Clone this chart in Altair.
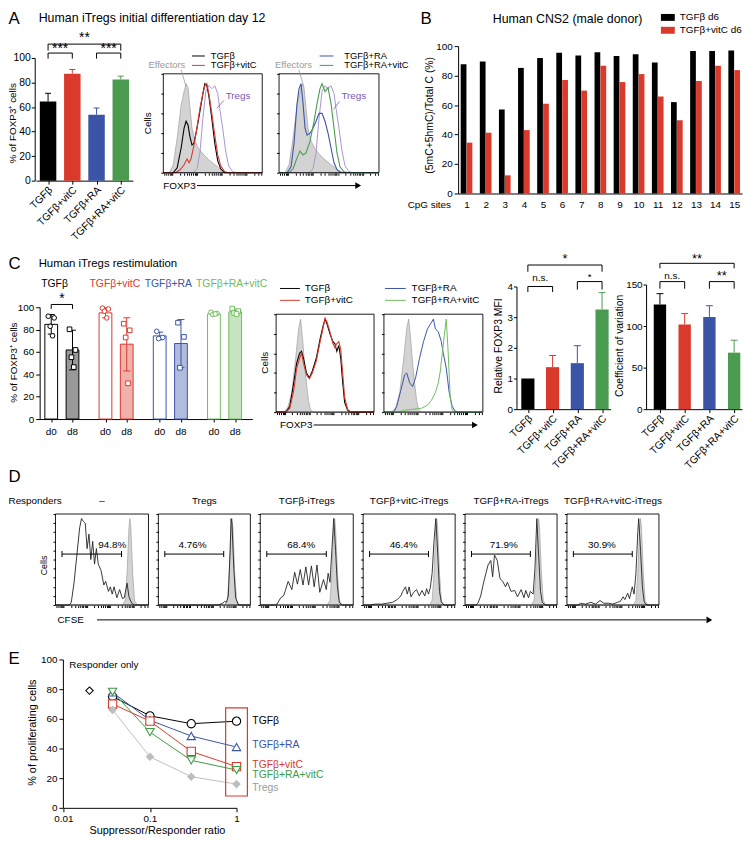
import json
import math

import altair as alt
import pandas as pd

W, H = 746, 833
FONT = "Liberation Sans"

BLACK = "#000000"
RED = "#d93a2c"
BLUE = "#3b54a6"
GREEN = "#4a9a4f"
LGREEN = "#70bb5f"
EGREEN = "#3e9b45"
GREY_TXT = "#9a9a9a"
GREY_FILL = "#d3d3d3"
GREY_LINE = "#a0a0a0"
TREG_LINE = "#a894d2"
TREG_TXT = "#7d58b0"
EGREY = "#bdbdbd"

# ====================== DATA ======================
GROUPS = ["TGFβ", "TGFβ+vitC", "TGFβ+RA", "TGFβ+RA+vitC"]
GROUP_COLORS = [BLACK, RED, BLUE, GREEN]

# Panel A: % FOXP3+ (mean, top of error bar)
A_mean = [64.6, 87.2, 53.8, 82.4]
A_top = [71.2, 90.6, 59.2, 85.2]
A_brk_a = [1, 3, 1]
A_brk_b = [2, 4, 4]
A_brk_top = [104.0, 104.0, 111.3]
A_brk_drop = [99.5, 99.5, 106.0]
A_brk_ty = [107.0, 107.0, 116.0]
A_brk_lab = ["***", "***", "**"]

# Panel B: methylation per CpG site
B_sites = list(range(1, 16))
B_tgfb = [87.7, 89.5, 57.0, 85.2, 91.9, 95.5, 93.7, 95.9, 93.3, 94.4, 88.8, 62.0, 96.6, 96.6, 97.0]
B_vitc = [34.5, 41.2, 12.3, 43.0, 60.9, 77.0, 69.8, 86.6, 75.6, 81.0, 65.8, 49.7, 76.3, 86.6, 83.7]

# Panel C: restimulation d0 / d8
C_d0_mean = [84.7, 95.0, 74.4, 94.1]
C_d0_lo = [76.0, 90.5, 71.0, 92.8]
C_d0_hi = [93.5, 99.5, 77.8, 95.4]
C_d0_pts = [[92.0, 90.5, 83.0, 74.5], [99.2, 98.5, 96.5, 90.5], [78.5, 73.0, 72.0], [95.5, 94.5, 93.5, 94.0]]
C_d8_mean = [61.8, 67.0, 67.6, 95.9]
C_d8_lo = [44.0, 43.0, 46.0, 93.8]
C_d8_hi = [79.5, 90.6, 89.0, 98.2]
C_d8_pts = [[80.3, 61.8, 55.3, 46.5], [85.3, 79.4, 73.0, 32.0], [86.2, 73.5, 45.9], [98.8, 96.5, 95.0, 94.0]]

MFI_mean = [1.0, 1.37, 1.5, 3.25]
MFI_top = [1.0, 1.75, 2.07, 3.8]
CV_mean = [126.0, 102.0, 111.0, 68.0]
CV_top = [139.0, 115.0, 124.5, 83.0]

# Panel E: suppression
E_ratio = [0.037, 0.1, 0.3, 1.0]
E_series = ["TGFβ", "TGFβ+RA", "TGFβ+vitC", "TGFβ+RA+vitC", "Tregs"]
E_tgfb = [75.0, 62.0, 56.7, 58.4]
E_ra = [77.8, 59.0, 48.4, 41.0]
E_vitc = [70.0, 58.4, 38.0, 27.8]
E_ravitc = [78.2, 51.0, 32.0, 25.5]
E_tregs = [66.0, 34.4, 21.0, 16.0]
E_resp_ratio = [0.02]
E_resp_val = [79.0]

# Histogram traces (fraction of FOXP3 / CFSE axis, fraction of modal count)
HA_eff = [[0, 0], [0.06, 0], [0.1, 0.08], [0.14, 0.35], [0.18, 0.68], [0.21, 0.82], [0.23, 0.9], [0.25, 0.86],
          [0.27, 0.65], [0.29, 0.45], [0.32, 0.32], [0.36, 0.24], [0.41, 0.18], [0.46, 0.13], [0.51, 0.09],
          [0.56, 0.05], [0.6, 0.02], [0.65, 0], [1, 0]]
HA1_tgfb = [[0, 0], [0.1, 0], [0.14, 0.05], [0.18, 0.25], [0.21, 0.45], [0.23, 0.52], [0.25, 0.48], [0.27, 0.36],
            [0.29, 0.28], [0.31, 0.3], [0.34, 0.45], [0.37, 0.62], [0.4, 0.8], [0.42, 0.9], [0.44, 0.88],
            [0.46, 0.78], [0.49, 0.55], [0.52, 0.3], [0.55, 0.12], [0.58, 0.04], [0.62, 0], [1, 0]]
HA1_vitc = [[0, 0], [0.12, 0], [0.17, 0.03], [0.21, 0.08], [0.24, 0.14], [0.26, 0.1], [0.28, 0.14], [0.31, 0.28],
            [0.34, 0.45], [0.37, 0.65], [0.4, 0.8], [0.42, 0.88], [0.44, 0.9], [0.46, 0.8], [0.49, 0.6],
            [0.52, 0.38], [0.55, 0.18], [0.58, 0.07], [0.62, 0.01], [0.66, 0], [1, 0]]
HA_tregs = [[0, 0], [0.3, 0], [0.34, 0.04], [0.37, 0.2], [0.4, 0.55], [0.43, 0.82], [0.46, 0.88], [0.49, 0.85],
            [0.52, 0.88], [0.55, 0.8], [0.57, 0.65], [0.6, 0.45], [0.63, 0.22], [0.66, 0.07], [0.7, 0.01],
            [0.74, 0], [1, 0]]
HA2_ra = [[0, 0], [0.08, 0], [0.12, 0.06], [0.15, 0.3], [0.18, 0.7], [0.2, 0.85], [0.22, 0.9], [0.24, 0.7],
          [0.26, 0.45], [0.28, 0.38], [0.31, 0.4], [0.34, 0.45], [0.37, 0.52], [0.4, 0.6], [0.43, 0.6],
          [0.46, 0.52], [0.49, 0.4], [0.52, 0.25], [0.55, 0.1], [0.58, 0.03], [0.62, 0], [1, 0]]
HA2_ravitc = [[0, 0], [0.1, 0], [0.14, 0.04], [0.18, 0.15], [0.21, 0.22], [0.24, 0.18], [0.27, 0.2], [0.31, 0.32],
              [0.35, 0.52], [0.38, 0.7], [0.41, 0.85], [0.43, 0.9], [0.46, 0.82], [0.49, 0.86], [0.52, 0.7],
              [0.55, 0.45], [0.58, 0.2], [0.61, 0.06], [0.65, 0.01], [0.7, 0], [1, 0]]

HC_eff = [[0, 0], [0.08, 0], [0.12, 0.05], [0.16, 0.2], [0.2, 0.55], [0.23, 0.85], [0.25, 0.95], [0.27, 0.75],
          [0.29, 0.5], [0.31, 0.3], [0.33, 0.12], [0.35, 0.03], [0.38, 0], [1, 0]]
HC1_tgfb = [[0, 0], [0.1, 0], [0.14, 0.06], [0.18, 0.3], [0.21, 0.5], [0.24, 0.6], [0.26, 0.62], [0.28, 0.55],
            [0.31, 0.4], [0.34, 0.35], [0.37, 0.42], [0.41, 0.55], [0.45, 0.75], [0.48, 0.88], [0.5, 0.95],
            [0.52, 0.9], [0.55, 0.8], [0.58, 0.72], [0.6, 0.7], [0.62, 0.62], [0.64, 0.68], [0.66, 0.55],
            [0.68, 0.3], [0.7, 0.1], [0.73, 0.02], [0.76, 0], [1, 0]]
HC1_vitc = [[0, 0], [0.1, 0], [0.14, 0.04], [0.18, 0.22], [0.21, 0.45], [0.24, 0.55], [0.26, 0.6], [0.28, 0.5],
            [0.31, 0.38], [0.34, 0.34], [0.37, 0.4], [0.41, 0.52], [0.45, 0.72], [0.48, 0.86], [0.5, 0.96],
            [0.52, 0.92], [0.55, 0.82], [0.58, 0.7], [0.6, 0.66], [0.62, 0.7], [0.64, 0.72], [0.66, 0.64],
            [0.68, 0.4], [0.7, 0.15], [0.73, 0.03], [0.76, 0], [1, 0]]
HC2_ra = [[0, 0], [0.1, 0], [0.13, 0.06], [0.17, 0.22], [0.21, 0.38], [0.23, 0.4], [0.26, 0.3], [0.29, 0.26],
          [0.32, 0.35], [0.36, 0.55], [0.4, 0.72], [0.44, 0.85], [0.47, 0.9], [0.5, 0.95], [0.52, 0.85],
          [0.55, 0.82], [0.58, 0.72], [0.6, 0.6], [0.63, 0.45], [0.66, 0.2], [0.69, 0.06], [0.72, 0.01],
          [0.75, 0], [1, 0]]
HC2_ravitc = [[0, 0], [0.15, 0], [0.22, 0.02], [0.3, 0.03], [0.38, 0.04], [0.44, 0.07], [0.48, 0.12], [0.52, 0.2],
              [0.55, 0.3], [0.57, 0.42], [0.59, 0.6], [0.61, 0.78], [0.63, 0.95], [0.65, 0.6], [0.67, 0.15],
              [0.69, 0.02], [0.72, 0], [1, 0]]

HD_undiv = [[0, 0], [0.72, 0], [0.75, 0.05], [0.77, 0.35], [0.79, 0.85], [0.8, 0.95], [0.81, 0.85], [0.83, 0.35],
            [0.85, 0.05], [0.88, 0], [1, 0]]
HD1 = [[0, 0], [0.15, 0], [0.17, 0.03], [0.2, 0.25], [0.23, 0.55], [0.26, 0.85], [0.28, 0.95], [0.3, 0.92],
       [0.32, 0.9], [0.34, 0.62], [0.36, 0.78], [0.38, 0.5], [0.4, 0.7], [0.42, 0.45], [0.44, 0.62], [0.46, 0.45],
       [0.49, 0.38], [0.52, 0.22], [0.54, 0.26], [0.57, 0.15], [0.59, 0.2], [0.61, 0.12], [0.63, 0.2],
       [0.66, 0.08], [0.69, 0.17], [0.72, 0.07], [0.74, 0.08], [0.77, 0.24], [0.79, 0.09], [0.82, 0.02],
       [0.85, 0], [1, 0]]
HD2 = [[0, 0], [0.65, 0], [0.7, 0.02], [0.72, 0.04], [0.74, 0.03], [0.76, 0.1], [0.78, 0.6], [0.79, 0.95],
       [0.8, 0.9], [0.82, 0.4], [0.84, 0.08], [0.87, 0], [1, 0]]
HD3 = [[0, 0], [0.16, 0], [0.18, 0.01], [0.22, 0.08], [0.25, 0.1], [0.27, 0.16], [0.3, 0.26], [0.34, 0.17],
       [0.37, 0.36], [0.4, 0.23], [0.43, 0.39], [0.46, 0.22], [0.49, 0.42], [0.52, 0.22], [0.55, 0.43],
       [0.58, 0.2], [0.61, 0.44], [0.64, 0.14], [0.68, 0.28], [0.71, 0.17], [0.73, 0.35], [0.75, 0.25],
       [0.77, 0.6], [0.79, 0.95], [0.81, 0.6], [0.83, 0.2], [0.85, 0.03], [0.88, 0], [1, 0]]
HD4 = [[0, 0], [0.08, 0], [0.12, 0.01], [0.2, 0.01], [0.26, 0.02], [0.32, 0.03], [0.37, 0.06], [0.41, 0.1],
       [0.43, 0.15], [0.46, 0.2], [0.48, 0.12], [0.5, 0.2], [0.52, 0.09], [0.55, 0.14], [0.58, 0.17],
       [0.61, 0.1], [0.64, 0.16], [0.67, 0.1], [0.69, 0.18], [0.71, 0.12], [0.73, 0.19], [0.75, 0.35],
       [0.77, 0.7], [0.79, 0.95], [0.81, 0.57], [0.83, 0.15], [0.85, 0.03], [0.88, 0], [1, 0]]
HD5 = [[0, 0], [0.12, 0], [0.14, 0.02], [0.17, 0.1], [0.2, 0.24], [0.23, 0.36], [0.25, 0.44], [0.28, 0.49],
       [0.3, 0.31], [0.32, 0.55], [0.35, 0.49], [0.38, 0.29], [0.41, 0.26], [0.44, 0.2], [0.46, 0.25],
       [0.5, 0.15], [0.54, 0.16], [0.57, 0.09], [0.61, 0.17], [0.64, 0.08], [0.66, 0.16], [0.69, 0.08],
       [0.71, 0.15], [0.74, 0.12], [0.76, 0.4], [0.78, 0.95], [0.8, 0.55], [0.82, 0.15], [0.84, 0.03],
       [0.87, 0], [1, 0]]
HD6 = [[0, 0], [0.12, 0], [0.15, 0.02], [0.2, 0.01], [0.26, 0.03], [0.31, 0.01], [0.36, 0.05], [0.4, 0.02],
       [0.45, 0.02], [0.5, 0.01], [0.55, 0.03], [0.58, 0.04], [0.61, 0.09], [0.63, 0.06], [0.66, 0.13],
       [0.68, 0.07], [0.71, 0.2], [0.73, 0.12], [0.75, 0.35], [0.77, 0.8], [0.78, 0.95], [0.8, 0.6],
       [0.82, 0.2], [0.84, 0.03], [0.87, 0], [1, 0]]
D_curves = [HD1, HD2, HD3, HD4, HD5, HD6]
D_titles = ["–", "Tregs", "TGFβ-iTregs", "TGFβ+vitC-iTregs", "TGFβ+RA-iTregs", "TGFβ+RA+vitC-iTregs"]
D_pct = ["94.8%", "4.76%", "68.4%", "46.4%", "71.9%", "30.9%"]

# ====================== HELPERS ======================
def X(p):
    return p - 8.0


def Y(p):
    return p - 8.0


def lin_x(d0, d1, p0, p1):
    return alt.Scale(type="linear", domain=[d0, d1], range=[X(p0), X(p1)], nice=False, zero=False)


def lin_y(d0, d1, p0, p1):
    return alt.Scale(type="linear", domain=[d0, d1], range=[Y(p0), Y(p1)], nice=False, zero=False)


def _axis(orient, offset, values, labels, domain, tick, size, fmt, pad):
    kw = dict(orient=orient, offset=offset, values=values, title=None, grid=False, labels=labels,
              domain=domain, ticks=tick > 0, tickSize=tick, labelFontSize=size, labelPadding=pad,
              labelFont=FONT, labelColor="black", domainColor="black", tickColor="black",
              domainWidth=1, tickWidth=1, labelFlush=False, labelOverlap=False)
    if fmt:
        kw["format"] = fmt
    return alt.Axis(**kw)


def axis_left(xp, values, labels=True, domain=True, tick=4, size=10, fmt=None, pad=2):
    return _axis("left", -X(xp), values, labels, domain, tick, size, fmt, pad)


def axis_bottom(yp, values, labels=True, domain=True, tick=4, size=10, fmt=None, pad=2):
    return _axis("bottom", Y(yp) - H, values, labels, domain, tick, size, fmt, pad)


def rot_labels(xs, y_page, shift):
    df = pd.DataFrame({"pos": [1 + shift, 2 + shift, 3 + shift, 4 + shift], "name": GROUPS})
    return alt.Chart(df).mark_text(font=FONT, fontSize=10.5, angle=315, align="right",
                                   baseline="middle").encode(
        x=alt.X("pos:Q", scale=xs, axis=None), y=alt.value(Y(y_page)), text="name:N")


def brackets(xs, ys, a, b, top, drop, ty, lab, fsize):
    df = pd.DataFrame({"a": a, "b": b, "top": top, "drop": drop, "ty": ty, "lab": lab})
    df["m"] = (df["a"] + df["b"]) / 2
    h = alt.Chart(df).mark_rule(color="black", strokeWidth=1).encode(
        x=alt.X("a:Q", scale=xs, axis=None), x2="b:Q", y=alt.Y("top:Q", scale=ys, axis=None))
    l = alt.Chart(df).mark_rule(color="black", strokeWidth=1).encode(
        x=alt.X("a:Q", scale=xs, axis=None), y=alt.Y("top:Q", scale=ys, axis=None), y2="drop:Q")
    r = alt.Chart(df).mark_rule(color="black", strokeWidth=1).encode(
        x=alt.X("b:Q", scale=xs, axis=None), y=alt.Y("top:Q", scale=ys, axis=None), y2="drop:Q")
    t = alt.Chart(df).mark_text(font=FONT, fontSize=fsize, baseline="middle", align="center").encode(
        x=alt.X("m:Q", scale=xs, axis=None), y=alt.Y("ty:Q", scale=ys, axis=None), text="lab:N")
    return [h, l, r, t]


def pairs_df(pairs):
    return pd.DataFrame({"fx": [p[0] for p in pairs], "fy": [p[1] for p in pairs]})


HIST_BOTTOM = sorted({round(d + 0.25 * math.log10(k), 4)
                      for d in [-0.16, 0.09, 0.34, 0.59, 0.84] for k in range(1, 10)
                      if 0 <= d + 0.25 * math.log10(k) <= 1})


def hist_panel(xp0, xp1, yp0, yp1, grey, lines, left_vals, extra=None):
    xs = lin_x(0, 1, xp0, xp1)
    ys = lin_y(0, 1, yp1, yp0)
    layers = [alt.Chart(pairs_df(grey)).mark_area(fill=GREY_FILL, stroke=GREY_LINE, strokeWidth=0.7,
                                                   opacity=1).encode(
        x=alt.X("fx:Q", scale=xs, axis=None), y=alt.Y("fy:Q", scale=ys, axis=None))]
    for pairs, color, width in lines:
        layers.append(alt.Chart(pairs_df(pairs)).mark_line(color=color, strokeWidth=width).encode(
            x=alt.X("fx:Q", scale=xs, axis=None), y=alt.Y("fy:Q", scale=ys, axis=None)))
    frame = pd.DataFrame({"a": [0.0], "b": [1.0], "c": [0.0], "d": [1.0]})
    layers.append(alt.Chart(frame).mark_rect(fill="white", fillOpacity=0, stroke="black", strokeWidth=0.9).encode(
        x=alt.X("a:Q", scale=xs, axis=axis_bottom(yp1, HIST_BOTTOM, labels=False, domain=False, tick=2.5)),
        x2="b:Q",
        y=alt.Y("c:Q", scale=ys, axis=axis_left(xp0, left_vals, labels=False, domain=False, tick=2.5)),
        y2="d:Q"))
    if extra is not None:
        layers.extend(extra(xs, ys))
    return layers


units = []

# ---------------- Panel A bars ----------------
xsA = lin_x(0.5, 4.5, 36.25, 134.25)
ysA = lin_y(0, 100, 178, 54)
dfA = pd.DataFrame({"pos": [1, 2, 3, 4], "mean": A_mean, "top": A_top, "color": GROUP_COLORS})
dfA["x0"] = dfA["pos"] - 0.34
dfA["x1"] = dfA["pos"] + 0.34
dfA["zero"] = 0.0
barsA = alt.Chart(dfA).mark_bar(opacity=1).encode(
    x=alt.X("x0:Q", scale=xsA, axis=axis_bottom(178, [1, 2, 3, 4], labels=False, tick=3.5)),
    x2="x1:Q",
    y=alt.Y("mean:Q", scale=ysA, axis=axis_left(35, [0, 20, 40, 60, 80, 100], size=10.5, pad=1, tick=3.5)),
    y2="zero:Q",
    color=alt.Color("color:N", scale=None))
errA = alt.Chart(dfA).mark_rule(strokeWidth=1).encode(
    x=alt.X("pos:Q", scale=xsA, axis=None), y=alt.Y("mean:Q", scale=ysA, axis=None), y2="top:Q",
    color=alt.Color("color:N", scale=None))
capA = alt.Chart(dfA).mark_tick(orient="horizontal", size=6, thickness=1, opacity=1).encode(
    x=alt.X("pos:Q", scale=xsA, axis=None), y=alt.Y("top:Q", scale=ysA, axis=None),
    color=alt.Color("color:N", scale=None))
units += [barsA, errA, capA, rot_labels(xsA, 186, 0.12)]
units += brackets(xsA, ysA, A_brk_a, A_brk_b, A_brk_top, A_brk_drop, A_brk_ty, A_brk_lab, 14)

# ---------------- Panel A histograms ----------------
LEFT6 = [0, 0.2, 0.4, 0.6, 0.8, 1.0]
units += hist_panel(165, 265, 70, 170, HA_eff,
                    [(HA_tregs, TREG_LINE, 1), (HA1_tgfb, BLACK, 1.1), (HA1_vitc, RED, 1.1)], LEFT6)
units += hist_panel(282, 383, 70, 170, HA_eff,
                    [(HA_tregs, TREG_LINE, 1), (HA2_ra, BLUE, 1.1), (HA2_ravitc, GREEN, 1.1)], LEFT6)

# ---------------- Panel B ----------------
xsB = lin_x(0.56, 15.41, 463, 750)
ysB = lin_y(0, 100, 191, 42)
rowsB = []
for s, v1, v2 in zip(B_sites, B_tgfb, B_vitc):
    rowsB.append({"site": s, "x0": s - 0.305, "x1": s - 0.005, "val": v1, "color": BLACK})
    rowsB.append({"site": s, "x0": s + 0.005, "x1": s + 0.305, "val": v2, "color": RED})
dfB = pd.DataFrame(rowsB)
dfB["zero"] = 0.0
barsB = alt.Chart(dfB).mark_bar(opacity=1).encode(
    x=alt.X("x0:Q", scale=xsB, axis=axis_bottom(191, B_sites, tick=0, pad=6, size=10)),
    x2="x1:Q",
    y=alt.Y("val:Q", scale=ysB, axis=axis_left(463, [0, 20, 40, 60, 80, 100], size=10)),
    y2="zero:Q",
    color=alt.Color("color:N", scale=None))
units.append(barsB)

# ---------------- Panel C dots/bars ----------------
GAP = 2.55
xsC = lin_x(-0.544, 9.456, 40, 255)
ysC = lin_y(0, 100, 419, 306)
rowsC, ptsC = [], []
JIT = [-0.14, 0.14, -0.05, 0.06]
for gi in range(4):
    for day, means, los, his, pts in [("d0", C_d0_mean, C_d0_lo, C_d0_hi, C_d0_pts),
                                      ("d8", C_d8_mean, C_d8_lo, C_d8_hi, C_d8_pts)]:
        pos = gi * GAP + (0 if day == "d0" else 1)
        col = GROUP_COLORS[gi] if gi < 3 else LGREEN
        rowsC.append({"pos": pos, "x0": pos - 0.3, "x1": pos + 0.3, "mean": means[gi], "lo": los[gi],
                      "hi": his[gi], "color": col, "fill": "white" if day == "d0" else col,
                      "fo": 1.0 if day == "d0" else 0.4, "day": day})
        for k, v in enumerate(pts[gi]):
            ptsC.append({"px": pos + JIT[k], "val": v, "color": col,
                         "shape": "circle" if day == "d0" else "square"})
dfC = pd.DataFrame(rowsC)
dfC["zero"] = 0.0
dfCp = pd.DataFrame(ptsC)
barsC = alt.Chart(dfC).mark_bar(strokeWidth=1, opacity=1).encode(
    x=alt.X("x0:Q", scale=xsC, axis=axis_bottom(419, list(dfC["pos"]), labels=False, tick=3)),
    x2="x1:Q",
    y=alt.Y("mean:Q", scale=ysC, axis=axis_left(40, [0, 20, 40, 60, 80, 100], size=10)),
    y2="zero:Q",
    fill=alt.Fill("fill:N", scale=None), stroke=alt.Stroke("color:N", scale=None),
    fillOpacity=alt.FillOpacity("fo:Q", scale=None))
errC = alt.Chart(dfC).mark_rule(strokeWidth=1).encode(
    x=alt.X("pos:Q", scale=xsC, axis=None), y=alt.Y("lo:Q", scale=ysC, axis=None), y2="hi:Q",
    color=alt.Color("color:N", scale=None))
capC1 = alt.Chart(dfC).mark_tick(orient="horizontal", size=7, thickness=1, opacity=1).encode(
    x=alt.X("pos:Q", scale=xsC, axis=None), y=alt.Y("lo:Q", scale=ysC, axis=None),
    color=alt.Color("color:N", scale=None))
capC2 = alt.Chart(dfC).mark_tick(orient="horizontal", size=7, thickness=1, opacity=1).encode(
    x=alt.X("pos:Q", scale=xsC, axis=None), y=alt.Y("hi:Q", scale=ysC, axis=None),
    color=alt.Color("color:N", scale=None))
ptsCc = alt.Chart(dfCp).mark_point(filled=False, fill="white", size=22, strokeWidth=1, opacity=1).encode(
    x=alt.X("px:Q", scale=xsC, axis=None), y=alt.Y("val:Q", scale=ysC, axis=None),
    color=alt.Color("color:N", scale=None), shape=alt.Shape("shape:N", scale=None))
dayC = alt.Chart(dfC).mark_text(font=FONT, fontSize=10, baseline="middle").encode(
    x=alt.X("pos:Q", scale=xsC, axis=None), y=alt.value(Y(432)), text="day:N")
units += [barsC, errC, capC1, capC2, ptsCc, dayC]
units += brackets(xsC, ysC, [0], [1], [102.5], [98.5], [107.0], ["*"], 14)

# ---------------- Panel C histograms ----------------
units += hist_panel(279, 378, 313, 412, HC_eff, [(HC1_tgfb, BLACK, 1.1), (HC1_vitc, RED, 1.1)], LEFT6)
units += hist_panel(388, 488, 313, 412, HC_eff, [(HC2_ra, BLUE, 1), (HC2_ravitc, LGREEN, 1)], LEFT6)


# ---------------- Panel C MFI and CV ----------------
def small_bars(means, tops, xs, ys, xaxis_y, yaxis_x, yvals, halfw):
    df = pd.DataFrame({"pos": [1, 2, 3, 4], "mean": means, "top": tops, "color": GROUP_COLORS})
    df["x0"] = df["pos"] - halfw
    df["x1"] = df["pos"] + halfw
    df["zero"] = 0.0
    bars = alt.Chart(df).mark_bar(opacity=1).encode(
        x=alt.X("x0:Q", scale=xs, axis=axis_bottom(xaxis_y, [1, 2, 3, 4], labels=False, tick=3.5)),
        x2="x1:Q",
        y=alt.Y("mean:Q", scale=ys, axis=axis_left(yaxis_x, yvals, tick=3, pad=1)),
        y2="zero:Q",
        color=alt.Color("color:N", scale=None))
    dfe = df[df["top"] > df["mean"]]
    err = alt.Chart(dfe).mark_rule(strokeWidth=1).encode(
        x=alt.X("pos:Q", scale=xs, axis=None), y=alt.Y("mean:Q", scale=ys, axis=None), y2="top:Q",
        color=alt.Color("color:N", scale=None))
    cap = alt.Chart(dfe).mark_tick(orient="horizontal", size=7, thickness=1, opacity=1).encode(
        x=alt.X("pos:Q", scale=xs, axis=None), y=alt.Y("top:Q", scale=ys, axis=None),
        color=alt.Color("color:N", scale=None))
    return [bars, err, cap, rot_labels(xs, xaxis_y + 8, 0.12)]


xsM = lin_x(0.54, 4.34, 522, 617)
ysM = lin_y(0, 4, 409, 285)
units += small_bars(MFI_mean, MFI_top, xsM, ysM, 409, 522, [0, 1, 2, 3, 4], 0.266)
units += brackets(xsM, ysM, [1, 3], [2, 4], [4.0, 4.16], [3.82, 3.9], [4.27, 4.3], ["n.s.", "*"], 10)
units += brackets(xsM, ysM, [1], [4], [4.7], [4.48], [4.88], ["*"], 13)
xsV = lin_x(0.44, 4.32, 653, 750)
ysV = lin_y(0, 150, 409, 283)
units += small_bars(CV_mean, CV_top, xsV, ysV, 409, 653, [0, 50, 100, 150], 0.25)
units += brackets(xsV, ysV, [1], [2], [153.5], [145.0], [160.0], ["n.s."], 10)
units += brackets(xsV, ysV, [3, 1], [4, 4], [153.5, 175.5], [145.0, 169.5], [160.5, 181.0], ["**", "**"], 13)

# ---------------- Panel D ----------------
D_box_x = [(56, 150), (160, 253), (263, 357), (367, 460), (470, 563), (573, 666)]
D_lab_x = [0.61, 0.37, 0.44, 0.44, 0.42, 0.38]
LEFT11 = [i / 10 for i in range(11)]
for i in range(6):
    def gate(xs, ys, i=i):
        g = pd.DataFrame({"a": [0.07], "b": [0.71], "y": [0.56], "lx": [D_lab_x[i]], "ly": [0.66],
                          "lab": [D_pct[i]]})
        h = alt.Chart(g).mark_rule(color="black", strokeWidth=1).encode(
            x=alt.X("a:Q", scale=xs, axis=None), x2="b:Q", y=alt.Y("y:Q", scale=ys, axis=None))
        e1 = alt.Chart(g).mark_tick(orient="vertical", size=6, thickness=1, color="black", opacity=1).encode(
            x=alt.X("a:Q", scale=xs, axis=None), y=alt.Y("y:Q", scale=ys, axis=None))
        e2 = alt.Chart(g).mark_tick(orient="vertical", size=6, thickness=1, color="black", opacity=1).encode(
            x=alt.X("b:Q", scale=xs, axis=None), y=alt.Y("y:Q", scale=ys, axis=None))
        t = alt.Chart(g).mark_text(font=FONT, fontSize=10, baseline="middle").encode(
            x=alt.X("lx:Q", scale=xs, axis=None), y=alt.Y("ly:Q", scale=ys, axis=None), text="lab:N")
        return [h, e1, e2, t]
    x0, x1 = D_box_x[i]
    units += hist_panel(x0, x1, 515, 607, HD_undiv, [(D_curves[i], "#222222", 0.9)], LEFT11, extra=gate)

# ---------------- Panel E ----------------
xsE = alt.Scale(type="log", domain=[0.01, 1], range=[X(64), X(239)], nice=False)
ysE = lin_y(0, 100, 812, 662)
E_colors = {"TGFβ": BLACK, "TGFβ+RA": BLUE, "TGFβ+vitC": RED, "TGFβ+RA+vitC": EGREEN, "Tregs": EGREY}
E_shapes = {"TGFβ": "circle", "TGFβ+RA": "triangle-up", "TGFβ+vitC": "square",
            "TGFβ+RA+vitC": "triangle-down", "Tregs": "diamond"}
rowsE = []
for name, vals in zip(E_series, [E_tgfb, E_ra, E_vitc, E_ravitc, E_tregs]):
    for r, v in zip(E_ratio, vals):
        rowsE.append({"series": name, "ratio": r, "val": v, "color": E_colors[name], "shape": E_shapes[name]})
dfE = pd.DataFrame(rowsE)
lineE = alt.Chart(dfE).mark_line(strokeWidth=1).encode(
    x=alt.X("ratio:Q", scale=xsE, axis=axis_bottom(812, [0.01, 0.1, 1], fmt="~g", size=10)),
    y=alt.Y("val:Q", scale=ysE, axis=axis_left(63.5, [0, 20, 40, 60, 80, 100], size=10)),
    color=alt.Color("color:N", scale=None), detail="series:N")
openE = alt.Chart(dfE[dfE["series"] != "Tregs"]).mark_point(filled=False, fill="white", size=70, strokeWidth=1.1,
                                                           opacity=1).encode(
    x=alt.X("ratio:Q", scale=xsE, axis=None), y=alt.Y("val:Q", scale=ysE, axis=None),
    color=alt.Color("color:N", scale=None), shape=alt.Shape("shape:N", scale=None))
fillE = alt.Chart(dfE[dfE["series"] == "Tregs"]).mark_point(filled=True, shape="diamond", size=75, opacity=1,
                                                           color=EGREY).encode(
    x=alt.X("ratio:Q", scale=xsE, axis=None), y=alt.Y("val:Q", scale=ysE, axis=None))
respE = alt.Chart(pd.DataFrame({"ratio": E_resp_ratio, "val": E_resp_val})).mark_point(
    filled=False, fill="white", shape="diamond", size=55, strokeWidth=1.1, opacity=1, color="black").encode(
    x=alt.X("ratio:Q", scale=xsE, axis=None), y=alt.Y("val:Q", scale=ysE, axis=None))
units += [lineE, openE, fillE, respE]

# ---------------- Annotations (page coordinates) ----------------
axs = alt.Scale(domain=[8, 8 + W], range=[0, W], nice=False, zero=False)
ays = alt.Scale(domain=[8, 8 + H], range=[0, H], nice=False, zero=False)

TEXT_LEFT = [
    ("A", 8.5, 15, 17, BLACK, 0),
    ("Human iTregs initial differentiation day 12", 39, 14, 12.5, BLACK, 0),
    ("B", 425, 15, 17, BLACK, 0),
    ("Human CNS2 (male donor)", 498, 15, 12.5, BLACK, 0),
    ("TGFβ d6", 687, 13, 10, BLACK, 0),
    ("TGFβ+vitC d6", 687, 26, 10, BLACK, 0),
    ("CpG sites", 412, 203, 10, BLACK, 0),
    ("TGFβ", 213, 52, 9.5, BLACK, 0),
    ("TGFβ+vitC", 213, 61.5, 9.5, BLACK, 0),
    ("TGFβ+RA", 348, 52, 9.5, BLACK, 0),
    ("TGFβ+RA+vitC", 348, 61.5, 9.5, BLACK, 0),
    ("Effectors", 150, 61.5, 9.5, GREY_TXT, 0),
    ("Effectors", 278, 61.5, 9.5, GREY_TXT, 0),
    ("Tregs", 228, 92, 10, TREG_TXT, 0),
    ("Tregs", 345, 92, 10, TREG_TXT, 0),
    ("FOXP3", 165, 183, 10, BLACK, 0),
    ("C", 8.5, 262, 17, BLACK, 0),
    ("Human iTregs restimulation", 39, 262, 11.5, BLACK, 0),
    ("TGFβ", 308, 287, 10, BLACK, 0),
    ("TGFβ+vitC", 308, 299, 10, BLACK, 0),
    ("TGFβ+RA", 416, 287, 10, BLACK, 0),
    ("TGFβ+RA+vitC", 416, 299, 10, BLACK, 0),
    ("FOXP3", 283, 425, 10, BLACK, 0),
    ("D", 8.5, 478, 17, BLACK, 0),
    ("Responders", 8.5, 502, 10, BLACK, 0),
    ("CFSE", 58, 622, 10, BLACK, 0),
    ("E", 8.5, 662, 17, BLACK, 0),
    ("Responder only", 70, 668, 10, BLACK, 0),
    ("TGFβ", 255, 724, 10.5, BLACK, 0),
    ("TGFβ+RA", 255, 749, 10.5, BLUE, 0),
    ("TGFβ+vitC", 255, 768.5, 10.5, RED, 0),
    ("TGFβ+RA+vitC", 255, 779, 10.5, EGREEN, 0),
    ("Tregs", 255, 791.5, 10.5, GREY_TXT, 0),
]
TEXT_CENTER = [
    ("TGFβ", 55, 283, 10.5, BLACK, 0),
    ("TGFβ+vitC", 116, 283, 10.5, RED, 0),
    ("TGFβ+RA", 170, 283, 10.5, BLUE, 0),
    ("TGFβ+RA+vitC", 234, 283, 10.5, LGREEN, 0),
    ("Suppressor/Responder ratio", 159, 835, 11, BLACK, 0),
    ("% of FOXP3⁺ cells", 13.5, 120, 10, BLACK, 270),
    ("(5mC+5hmC)/Total C (%)", 435, 112, 10.5, BLACK, 270),
    ("Cells", 150, 120, 10, BLACK, 270),
    ("% of FOXP3⁺ cells", 14, 362, 10, BLACK, 270),
    ("Cells", 268, 362, 10, BLACK, 270),
    ("Relative FOXP3 MFI", 504, 345, 10.5, BLACK, 270),
    ("Coefficient of variation", 627, 345, 10.5, BLACK, 270),
    ("Cells", 44, 567, 9, BLACK, 270),
    ("% of proliferating cells", 33, 736, 11, BLACK, 270),
]
for i in range(6):
    x0, x1 = D_box_x[i]
    TEXT_CENTER.append((D_titles[i], (x0 + x1) / 2, 502, 10, BLACK, 0))

RULES = [
    (194, 52, 207, 52, BLACK, 1), (194, 61.5, 207, 61.5, RED, 1),
    (323, 52, 337, 52, BLUE, 1), (323, 61.5, 337, 61.5, GREEN, 1),
    (183, 66, 188, 83, GREY_TXT, 0.8), (302, 66, 307, 83, GREY_TXT, 0.8),
    (226, 97, 219, 105, TREG_TXT, 0.8), (343, 98, 337, 106, TREG_TXT, 0.8),
    (199, 183, 360, 183, BLACK, 1),
    (283, 287, 303, 287, BLACK, 1), (283, 299, 303, 299, RED, 1),
    (389, 287, 410, 287, BLUE, 1), (389, 299, 410, 299, LGREEN, 1),
    (317, 425, 478, 425, BLACK, 1),
    (98, 622, 714, 622, BLACK, 1),
]
ARROWS = [(362, 183), (480, 425), (717, 622)]
RECT_FILL = [(668, 9.5, 682, 16.5, BLACK), (668, 22.5, 682, 29.5, RED)]
RECT_OUT = [(228, 711, 250, 800, RED)]


def text_layer(rows, align):
    df = pd.DataFrame(rows, columns=["t", "x", "y", "size", "color", "angle"])
    return alt.Chart(df).mark_text(align=align, baseline="middle", font=FONT).encode(
        x=alt.X("x:Q", scale=axs, axis=None), y=alt.Y("y:Q", scale=ays, axis=None), text="t:N",
        size=alt.Size("size:Q", scale=None), color=alt.Color("color:N", scale=None),
        angle=alt.Angle("angle:Q", scale=None))


dfR = pd.DataFrame(RULES, columns=["x", "y", "x2", "y2", "color", "w"])
ruleL = alt.Chart(dfR).mark_rule().encode(
    x=alt.X("x:Q", scale=axs, axis=None), y=alt.Y("y:Q", scale=ays, axis=None), x2="x2:Q", y2="y2:Q",
    color=alt.Color("color:N", scale=None), strokeWidth=alt.StrokeWidth("w:Q", scale=None))
dfAr = pd.DataFrame(ARROWS, columns=["x", "y"])
arrowL = alt.Chart(dfAr).mark_point(shape="triangle-right", filled=True, size=45, color="black", opacity=1).encode(
    x=alt.X("x:Q", scale=axs, axis=None), y=alt.Y("y:Q", scale=ays, axis=None))
dfRF = pd.DataFrame(RECT_FILL, columns=["x", "y", "x2", "y2", "color"])
rectF = alt.Chart(dfRF).mark_rect(opacity=1).encode(
    x=alt.X("x:Q", scale=axs, axis=None), y=alt.Y("y:Q", scale=ays, axis=None), x2="x2:Q", y2="y2:Q",
    color=alt.Color("color:N", scale=None))
dfRO = pd.DataFrame(RECT_OUT, columns=["x", "y", "x2", "y2", "color"])
rectO = alt.Chart(dfRO).mark_rect(fill="white", fillOpacity=0, strokeWidth=1.2).encode(
    x=alt.X("x:Q", scale=axs, axis=None), y=alt.Y("y:Q", scale=ays, axis=None), x2="x2:Q", y2="y2:Q",
    stroke=alt.Stroke("color:N", scale=None))
units += [text_layer(TEXT_LEFT, "left"), text_layer(TEXT_CENTER, "center"), ruleL, arrowL, rectF, rectO]

chart = alt.layer(*units).resolve_scale(x="independent", y="independent").properties(
    width=W, height=H, autosize="none", padding=0
).configure_view(stroke=None).configure_text(font=FONT)

chart.save("out.html", embed_options={"renderer": "svg", "actions": False})
